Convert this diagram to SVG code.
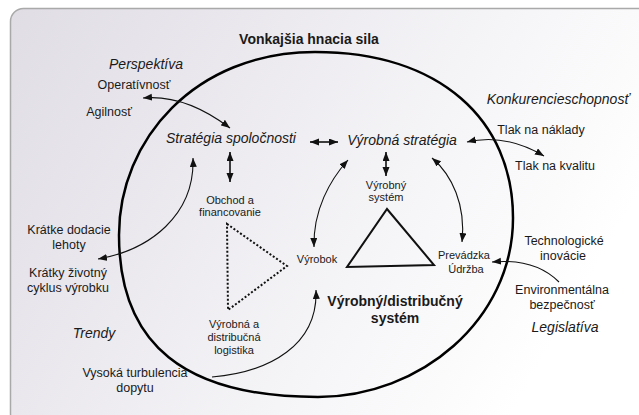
<svg xmlns="http://www.w3.org/2000/svg" width="639" height="415" viewBox="0 0 639 415">
<style>
text{font-family:"Liberation Sans",Arial,sans-serif;fill:#1a1a1a;text-anchor:middle}
.l{font-size:12.5px}
.s{font-size:11px}
.i{font-size:14px;font-style:italic}
.b{font-size:14px;font-weight:bold}
.c{fill:none;stroke:#111;stroke-width:1.1}
.t{fill:none;stroke:#111;stroke-width:1.6}
</style>
<defs>
<linearGradient id="bg" gradientUnits="userSpaceOnUse" x1="10" y1="10" x2="560" y2="330">
<stop offset="0" stop-color="#e0dde5"/>
<stop offset="1" stop-color="#ffffff"/>
</linearGradient>
<marker id="ah" markerUnits="userSpaceOnUse" markerWidth="10" markerHeight="8" refX="9" refY="3.5" orient="auto-start-reverse">
<path d="M0,0 L9,3.5 L0,7 z" fill="#111"/>
</marker>
</defs>
<rect x="10.5" y="8.5" width="700" height="418" rx="13" fill="url(#bg)" stroke="#a9a9a9" stroke-width="1.5"/>
<g id="outer">
<path d="M315,52 C440,52 513,120 513,218 C513,320 420,397 318,397 C185,397 119,345 119,235 C119,140 195,52 315,52 Z" fill="none" stroke="#000" stroke-width="2.5"/>
<text class="b" x="309" y="44">Vonkajšia hnacia sila</text>
</g>
<g id="perspektiva">
<text class="i" x="146" y="69">Perspektíva</text>
<text class="l" x="134" y="89">Operatívnosť</text>
<text class="l" x="109" y="116">Agilnosť</text>
</g>
<g id="konkurencieschopnost">
<text class="i" x="558" y="104">Konkurencieschopnosť</text>
<text class="l" x="541" y="134">Tlak na náklady</text>
<text class="l" x="555" y="170">Tlak na kvalitu</text>
</g>
<g id="trendy">
<text class="l" x="69" y="234">Krátke dodacie</text>
<text class="l" x="69" y="249">lehoty</text>
<text class="l" x="68" y="277">Krátky životný</text>
<text class="l" x="68" y="292">cyklus výrobku</text>
<text class="i" x="94" y="338">Trendy</text>
<text class="l" x="135" y="377">Vysoká turbulencia</text>
<text class="l" x="135" y="392">dopytu</text>
</g>
<g id="legislativa">
<text class="l" x="564" y="245">Technologické</text>
<text class="l" x="563" y="260">inovácie</text>
<text class="l" x="562" y="294">Environmentálna</text>
<text class="l" x="562" y="309">bezpečnosť</text>
<text class="i" x="565" y="332">Legislatíva</text>
</g>
<g id="strategia-spolocnosti">
<text class="i" x="231" y="143">Stratégia spoločnosti</text>
</g>
<g id="vyrobna-strategia">
<text class="i" x="402" y="145">Výrobná stratégia</text>
</g>
<g id="obchod">
<text class="s" x="230" y="204">Obchod a</text>
<text class="s" x="230" y="216">financovanie</text>
</g>
<g id="logistika">
<text class="s" x="234" y="328">Výrobná  a</text>
<text class="s" x="234" y="341">distribučná</text>
<text class="s" x="234" y="354">logistika</text>
<polygon points="227,224 287,266 228,310" fill="none" stroke="#111" stroke-width="2" stroke-dasharray="2 2"/>
</g>
<g id="vyrobny-system">
<text class="s" x="386" y="189">Výrobný</text>
<text class="s" x="386" y="201">systém</text>
<polygon points="387,209 434,265 347,267" fill="none" stroke="#111" stroke-width="2"/>
</g>
<g id="vyrobok">
<text class="s" x="317" y="263">Výrobok</text>
</g>
<g id="prevadzka">
<text class="s" x="464" y="259">Prevádzka</text>
<text class="s" x="466" y="273">Údržba</text>
</g>
<g id="system-label">
<text class="b" x="395" y="306">Výrobný/distribučný</text>
<text class="b" x="395" y="323">systém</text>
</g>
<g id="connectors">
<path class="c" d="M143,98 Q185,94 230,128" marker-start="url(#ah)" marker-end="url(#ah)"/>
<path class="t" d="M310,142 L338,142" marker-start="url(#ah)" marker-end="url(#ah)"/>
<path class="t" d="M230,152 L230,182" marker-start="url(#ah)" marker-end="url(#ah)"/>
<path class="t" d="M386,152 L386,176" marker-start="url(#ah)" marker-end="url(#ah)"/>
<path class="c" d="M348,160 C330,180 313,210 314,247" marker-start="url(#ah)" marker-end="url(#ah)"/>
<path class="c" d="M432,158 C452,175 466,205 462,242" marker-start="url(#ah)" marker-end="url(#ah)"/>
<path class="c" d="M467,142 Q505,133 544,156" marker-start="url(#ah)" marker-end="url(#ah)"/>
<path class="c" d="M98,259 C150,250 195,215 193,158" marker-start="url(#ah)" marker-end="url(#ah)"/>
<path class="c" d="M212,377 C270,372 318,345 316,290" marker-end="url(#ah)"/>
<path class="c" d="M559,282 Q535,258 492,262" marker-end="url(#ah)"/>
</g>
</svg>
